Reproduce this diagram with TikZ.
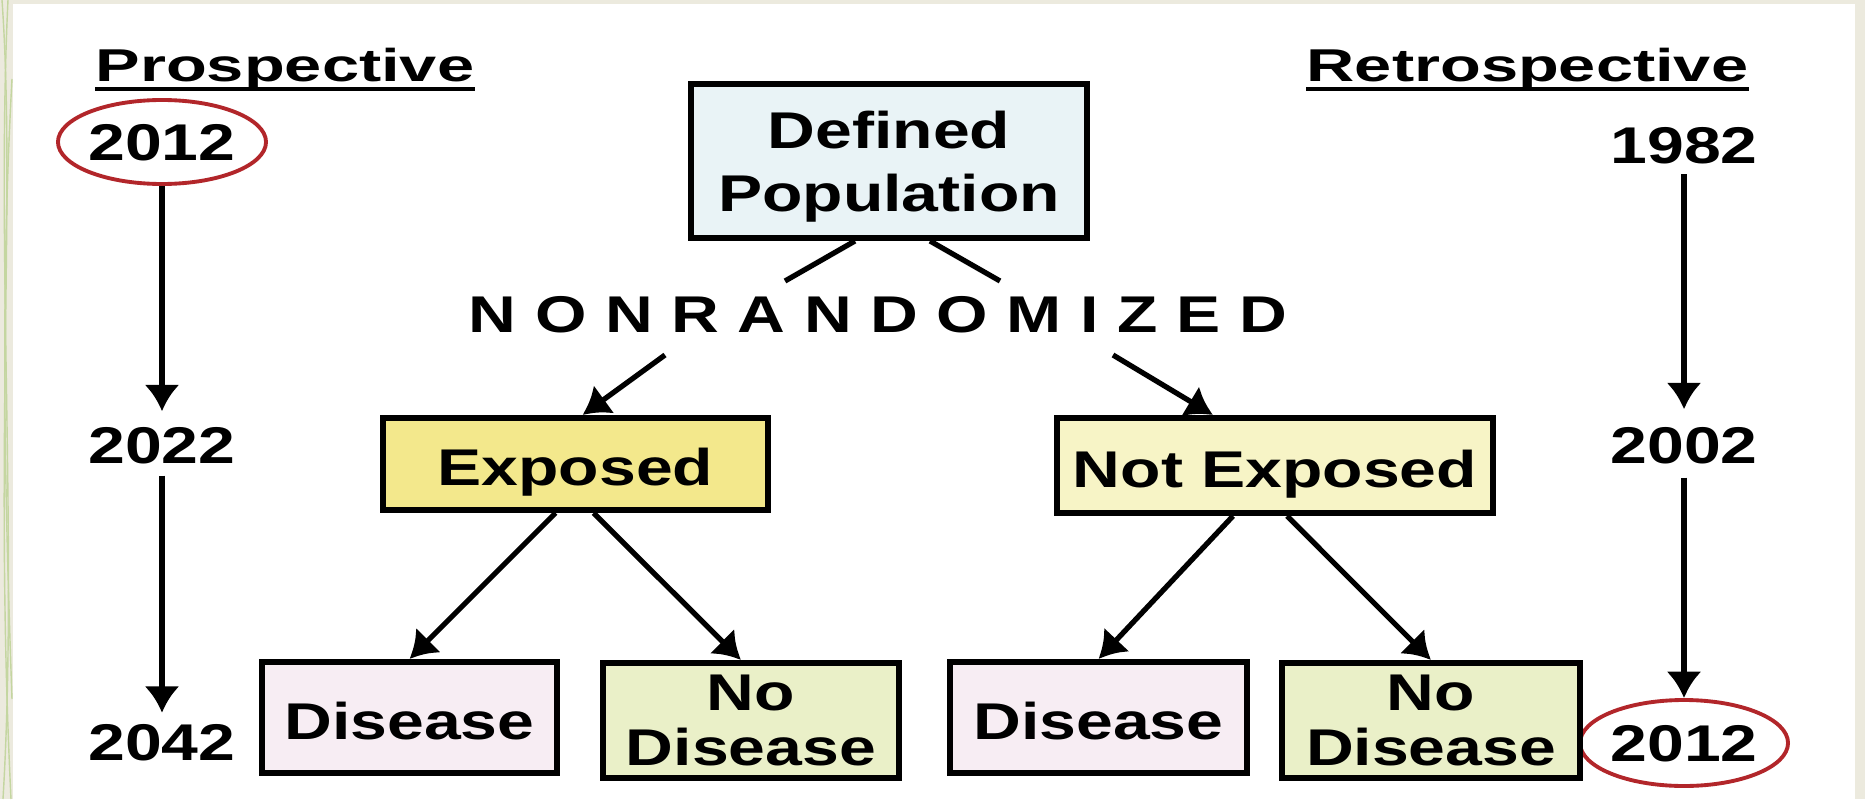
\documentclass[tikz,border=0pt]{standalone}
\usepackage{fontspec}
\usetikzlibrary{arrows.meta,shapes.geometric}
\newfontfamily\labelfont[FakeStretch=1.28]{Liberation Sans Bold}
\newfontfamily\headfont[FakeStretch=1.45]{Liberation Sans Bold}
\newfontfamily\spacedfont[FakeStretch=1.28,LetterSpace=36]{Liberation Sans Bold}
\definecolor{slidebg}{RGB}{236,234,222}
\definecolor{slideline}{RGB}{196,214,160}
\definecolor{ringred}{RGB}{178,38,42}
\definecolor{popfill}{RGB}{233,243,246}
\definecolor{expfill}{RGB}{243,232,140}
\definecolor{nexpfill}{RGB}{247,244,198}
\definecolor{disfill}{RGB}{247,237,243}
\definecolor{nodisfill}{RGB}{234,240,200}
\tikzset{
  box/.style={draw, line width=1.7pt, inner sep=0pt, align=center, text depth=0pt,
    font=\labelfont\fontsize{14.7}{17.9}\selectfont},
  year/.style={inner sep=0pt, text depth=0pt, font=\labelfont\fontsize{14.7}{17.9}\selectfont},
  ring/.style={year, ellipse, draw=ringred, line width=1.1pt},
  head/.style={inner sep=0pt, anchor=base west, font=\headfont\fontsize{13.1}{15}\selectfont},
  link/.style={line width=1.5pt},
  tip/.style={link, -{Latex[length=7.5pt,width=10pt]}},
}
\begin{document}
\begin{tikzpicture}
\useasboundingbox (0,0) rectangle (18.65,7.99);
% slide background
\fill[slidebg] (0,0) rectangle (18.65,7.99);
\begin{scope}
\clip (0,0) rectangle (0.13,7.99);
\draw[slideline, thin] (0.02,7.99) .. controls (0.16,6.0) and (-0.06,3.5) .. (0.11,0);
\draw[slideline, thin] (0.08,7.99) .. controls (-0.04,5.5) and (0.18,2.5) .. (0.03,0);
\draw[slideline, thin] (0.12,7.2) .. controls (0.0,5.0) and (0.05,3.0) .. (0.12,1.0);
\end{scope}
\fill[white] (0.13,0) rectangle (18.55,7.95);

% headers
\node[head] (pros) at (0.95, 7.17){Prospective};
\node[head] (retro) at (13.06, 7.17){Retrospective};
\draw[line width=1.2pt] ([yshift=-0.07cm]pros.base west) -- ([yshift=-0.07cm]pros.base east);
\draw[line width=1.2pt] ([yshift=-0.07cm]retro.base west) -- ([yshift=-0.07cm]retro.base east);

% years
\node[ring, minimum width=2.0cm, minimum height=0.84cm] (y2012L) at (1.62, 6.57){2012};
\node[year] (y2022) at (1.62, 3.54){2022};
\node[year] (y2042) at (1.62, 0.565){2042};
\node[year] (y1982) at (16.84, 6.535){1982};
\node[year] (y2002) at (16.84, 3.54){2002};
\node[ring, minimum width=1.82cm, minimum height=0.86cm] (y2012R) at (16.84, 0.56){2012};

% boxes
\node[box, fill=popfill, minimum width=3.96cm, minimum height=1.54cm] (pop) at (8.89, 6.38){Defined\\Population};
\node[inner sep=0pt, anchor=base west, font=\spacedfont\fontsize{14.7}{17.9}\selectfont] (nonrand) at (4.68, 4.67){NONRANDOMIZED};
\node[box, fill=expfill, text height=12.5pt, minimum width=3.85cm, minimum height=0.92cm] (exp) at (5.755, 3.35){Exposed};
\node[box, fill=nexpfill, text height=12.5pt, minimum width=4.36cm, minimum height=0.95cm] (nexp) at (12.75, 3.335){Not Exposed};
\node[box, fill=disfill, text height=12.5pt, minimum width=2.95cm, minimum height=1.11cm] (dis1) at (4.095, 0.815){Disease};
\node[box, fill=nodisfill, font=\labelfont\fontsize{14.7}{15.6}\selectfont, minimum width=2.96cm, minimum height=1.15cm] (nodis1) at (7.51, 0.785){No\\Disease};
\node[box, fill=disfill, text height=12.5pt, minimum width=2.97cm, minimum height=1.11cm] (dis2) at (10.985, 0.815){Disease};
\node[box, fill=nodisfill, font=\labelfont\fontsize{14.7}{15.6}\selectfont, minimum width=2.98cm, minimum height=1.15cm] (nodis2) at (14.31, 0.785){No\\Disease};

% split and fork points round NONRANDOMIZED
\coordinate (splitL) at (7.85, 5.18);
\coordinate (splitR) at (10.00, 5.18);
\coordinate (forkL) at (6.65, 4.44);
\coordinate (forkR) at (11.13, 4.44);

\draw[link] ([xshift=-0.34cm]pop.south) -- (splitL);
\draw[link] ([xshift=0.41cm]pop.south) -- (splitR);
\draw[tip] (forkL) -- ([xshift=0.07cm]exp.north);
\draw[tip] (forkR) -- ([xshift=-0.62cm]nexp.north);
\draw[tip] ([xshift=-0.20cm]exp.south) -- (dis1.north);
\draw[tip] ([xshift=0.18cm]exp.south) -- ([xshift=-0.10cm]nodis1.north);
\draw[tip] ([xshift=-0.42cm]nexp.south) -- (dis2.north);
\draw[tip] ([xshift=0.12cm]nexp.south) -- (nodis2.north);

% time lines
\draw[tip, shorten >=0.15cm] (y2012L.south) -- (y2022.north);
\draw[tip, shorten <=0.12cm, shorten >=0.11cm] (y2022.south) -- (y2042.north);
\draw[tip, shorten <=0.10cm, shorten >=0.17cm] (y1982.south) -- (y2002.north);
\draw[tip, shorten <=0.14cm] (y2002.south) -- (y2012R.north);
\end{tikzpicture}
\end{document}
